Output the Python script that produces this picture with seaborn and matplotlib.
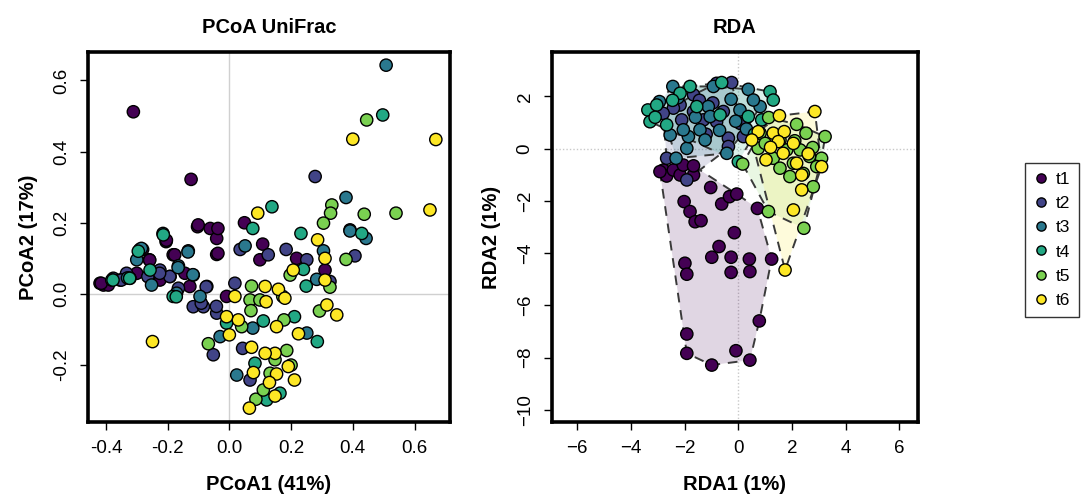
import numpy as np
import pandas as pd
import matplotlib
matplotlib.use("Agg")
import matplotlib.pyplot as plt
from matplotlib.patches import Polygon
import seaborn as sns

# ---------------- data ----------------
groups = ["t1", "t2", "t3", "t4", "t5", "t6"]
palette = ["#440154", "#414487", "#2A788E", "#22A884", "#7AD151", "#FDE725"]

# PCoA on UniFrac distances (axis 1 = 41 %, axis 2 = 17 %)
pcoa_t1_x = [-0.311, -0.124, -0.103, -0.062, -0.041, -0.041, 0.049, 0.108, 0.099, -0.205,
             -0.259, -0.182, -0.128, -0.419, -0.408, -0.009, 0.310, 0.218, -0.281, -0.300,
             -0.225, -0.392, -0.144, -0.415, -0.204, -0.177, -0.258, -0.101, -0.037, -0.037]
pcoa_t1_y = [0.512, 0.322, 0.189, 0.184, 0.156, 0.111, 0.200, 0.140, 0.096, 0.147,
             0.096, 0.110, 0.021, 0.030, 0.025, -0.007, 0.067, 0.100, 0.125, 0.058,
             0.039, 0.025, 0.058, 0.030, 0.151, 0.110, 0.095, 0.194, 0.184, 0.114]
pcoa_t2_x = [0.278, 0.184, 0.407, 0.126, 0.035, 0.018, 0.251, 0.326, -0.052, 0.043,
             0.067, -0.117, -0.073, -0.084, -0.192, -0.263, -0.333, -0.376, -0.354, -0.225,
             -0.041, -0.165, 0.391, -0.350, -0.264, -0.193, -0.075, -0.091, -0.042, -0.226]
pcoa_t2_y = [0.330, 0.125, 0.107, 0.110, 0.125, 0.030, 0.096, 0.035, -0.171, -0.153,
             -0.242, -0.036, 0.021, -0.036, 0.049, 0.049, 0.058, 0.044, 0.039, 0.067,
             -0.054, 0.016, 0.180, 0.039, 0.049, 0.049, 0.020, -0.026, -0.035, 0.058]
pcoa_t3_x = [0.508, 0.378, 0.391, 0.443, 0.305, 0.283, 0.051, -0.133, -0.290, -0.165,
             -0.117, -0.030, 0.024, 0.076, 0.251, -0.171, -0.300, -0.252, -0.095, -0.285,
             -0.215, -0.134, -0.166, -0.118, -0.330]
pcoa_t3_y = [0.643, 0.271, 0.177, 0.156, 0.121, 0.041, 0.135, 0.121, 0.125, 0.079,
             0.053, -0.120, -0.228, -0.096, -0.110, 0.002, 0.096, 0.025, -0.007, 0.128,
             0.170, 0.118, 0.074, 0.054, 0.045]
pcoa_t4_x = [0.497, 0.138, 0.076, 0.232, 0.429, 0.240, 0.249, 0.285, 0.211, 0.110,
             -0.214, -0.381, -0.322, -0.182, -0.009, 0.083, 0.121, 0.164, -0.257, -0.377,
             -0.323, -0.172, -0.295]
pcoa_t4_y = [0.503, 0.245, 0.184, 0.170, 0.170, 0.069, 0.022, -0.134, -0.064, -0.076,
             0.166, 0.039, 0.044, -0.007, -0.082, -0.195, -0.298, -0.279, 0.067, 0.039,
             0.044, -0.008, 0.120]
pcoa_t5_x = [0.445, 0.540, 0.437, 0.332, 0.328, 0.305, 0.378, 0.197, 0.326, 0.292,
             0.072, 0.067, 0.070, 0.173, 0.177, -0.068, 0.099, 0.186, 0.132, 0.086,
             0.148, 0.040, 0.110, 0.200]
pcoa_t5_y = [0.489, 0.227, 0.224, 0.250, 0.227, 0.199, 0.097, 0.053, 0.019, -0.048,
             0.022, -0.017, -0.047, -0.007, -0.073, -0.140, -0.017, -0.159, -0.223, -0.296,
             -0.185, -0.092, -0.270, -0.200]
pcoa_t6_x = [0.669, 0.400, 0.650, 0.092, 0.286, 0.310, 0.310, 0.207, 0.116, 0.159,
             0.180, 0.119, 0.316, 0.348, 0.018, 0.029, -0.009, 0.000, -0.249, 0.224,
             0.153, 0.072, 0.148, 0.116, 0.078, 0.153, 0.211, 0.130, 0.148, 0.065,
             0.191]
pcoa_t6_y = [0.434, 0.435, 0.236, 0.227, 0.152, 0.100, 0.039, 0.067, 0.021, 0.013,
             -0.012, -0.022, -0.031, -0.059, -0.007, -0.073, -0.064, -0.115, -0.134, -0.112,
             -0.092, -0.150, -0.167, -0.167, -0.221, -0.225, -0.242, -0.249, -0.287, -0.321,
             -0.204]

# RDA site scores (axis 1 = 1 %, axis 2 = 1 %)
rda_t1_x = [-0.99, -1.92, -1.92, -0.09, 0.43, 0.78, -1.99, -1.92, -0.99, -0.72,
            -0.27, -0.27, 0.41, 0.43, 1.24, -0.15, -2.02, -1.80, -1.61, -1.39,
            -0.62, -0.33, -0.06, -1.03, 0.71, -2.79, -2.67, -2.42, -2.17, -1.67,
            -2.05, -1.67, -2.92]
rda_t1_y = [-8.29, -7.84, -7.10, -7.74, -8.10, -6.60, -4.39, -4.81, -4.16, -3.75,
            -4.16, -4.74, -4.23, -4.71, -4.23, -3.22, -2.03, -2.41, -2.80, -2.76,
            -2.12, -1.84, -1.74, -1.49, -2.29, -0.82, -1.05, -0.82, -1.01, -1.01,
            -0.63, -0.66, -0.88]
rda_t2_x = [-0.25, -1.67, -2.17, -1.67, -0.56, -0.81, -0.37, -0.37, 0.19, -2.67,
            -1.92, -2.42, -1.30, -2.11, -0.81, 0.06, -1.45, -2.80, -0.95, -1.20]
rda_t2_y = [2.53, 2.06, 1.67, 1.42, 1.42, 1.03, 0.40, 0.08, 0.46, -0.37,
            -1.20, 1.55, 1.10, 1.10, 2.50, 0.97, 1.85, 1.35, 1.75, 0.55]
rda_t3_x = [-2.44, 0.37, -0.27, -1.12, -1.05, -2.54, -2.32, -1.92, -1.43, -0.43,
            -1.24, -1.86, -2.94, 0.06, 0.81, 0.56, -0.93, -2.05, -1.60, -0.70,
            -2.25, -0.10, 0.30]
rda_t3_y = [2.38, 2.27, 1.89, 1.61, 1.23, 0.52, -0.37, 0.01, 0.72, -0.18,
            0.33, 0.46, 1.80, 1.48, 1.61, 1.86, 2.38, 0.72, 1.20, 0.70,
            1.95, 1.05, 0.75]
rda_t4_x = [-3.37, -3.29, -3.04, -2.67, -1.80, -0.62, 1.18, 1.30, 0.37, 0.87,
            0.00, -2.17, -1.55, -0.68, -3.10, -2.45, 0.60]
rda_t4_y = [1.48, 1.03, 1.67, 0.91, 2.38, 2.53, 2.18, 1.86, 1.23, 1.10,
            -0.50, 2.12, 1.61, 1.29, 1.20, 1.85, 0.55]
rda_t5_x = [1.13, 3.23, 2.17, 2.52, 2.77, 3.10, 0.74, 1.30, 1.55, 2.05,
            2.79, 2.42, 0.16, 1.12, 2.44, 1.80, 2.30, 0.81, 2.92, 1.92,
            1.55, 2.65, 1.00, 2.10]
rda_t5_y = [1.19, 0.46, 0.93, 0.59, 0.04, -0.37, 0.01, -0.37, -0.75, -0.56,
            -1.46, -0.95, -0.59, -2.41, -3.05, -0.05, -0.05, 0.59, -0.69, -1.07,
            0.33, -0.30, 0.20, 0.30]
rda_t6_x = [2.85, 1.53, 0.74, 1.30, 1.71, 0.50, 1.49, 1.67, 1.03, 2.17,
            2.36, 3.10, 2.36, 2.05, 1.74, 2.05, 1.20, 2.60]
rda_t6_y = [1.42, 1.26, 0.65, 0.59, 0.65, 0.33, 0.27, -0.18, -0.43, -0.56,
            -1.01, -0.69, -1.58, -2.35, -4.65, 0.20, 0.05, -0.20]


def frame(prefix):
    parts = []
    for g in groups:
        xs = globals()[f"{prefix}_{g}_x"]
        ys = globals()[f"{prefix}_{g}_y"]
        parts.append(pd.DataFrame({"x": xs, "y": ys, "group": g}))
    return pd.concat(parts, ignore_index=True)


pcoa = frame("pcoa")
rda = frame("rda")


def convex_hull(points):
    pts = sorted(set(map(tuple, points)))
    if len(pts) < 3:
        return pts

    def cross(o, a, b):
        return (a[0] - o[0]) * (b[1] - o[1]) - (a[1] - o[1]) * (b[0] - o[0])

    lower, upper = [], []
    for p in pts:
        while len(lower) >= 2 and cross(lower[-2], lower[-1], p) <= 0:
            lower.pop()
        lower.append(p)
    for p in reversed(pts):
        while len(upper) >= 2 and cross(upper[-2], upper[-1], p) <= 0:
            upper.pop()
        upper.append(p)
    return lower[:-1] + upper[:-1]


# ---------------- figure ----------------
sns.set_theme(style="white")
plt.rcParams["font.family"] = ["Liberation Sans", "DejaVu Sans"]
for key in ("text.color", "axes.labelcolor", "xtick.color", "ytick.color"):
    plt.rcParams[key] = "black"

fig = plt.figure(figsize=(10.81, 4.99), dpi=100)
ax1 = fig.add_axes([0.0814, 0.1543, 0.3349, 0.7415])
ax2 = fig.add_axes([0.5104, 0.1543, 0.3388, 0.7415])

pt_kw = dict(s=78, edgecolor="black", linewidth=1.0, alpha=1.0)
lab_fs = 14.5
tick_fs = 13.5

# PCoA panel
ax1.axhline(0, color="#d0d0d0", lw=1.0, zorder=0)
ax1.axvline(0, color="#d0d0d0", lw=1.0, zorder=0)
sns.scatterplot(data=pcoa, x="x", y="y", hue="group", hue_order=groups,
                palette=palette, ax=ax1, legend=False, zorder=3, **pt_kw)
ax1.set_xlim(-0.458, 0.715)
ax1.set_ylim(-0.36, 0.68)
ax1.set_xticks([-0.4, -0.2, 0.0, 0.2, 0.4, 0.6])
ax1.set_xticklabels(["-0.4", "-0.2", "0.0", "0.2", "0.4", "0.6"])
ax1.set_yticks([-0.2, 0.0, 0.2, 0.4, 0.6])
ax1.set_yticklabels(["-0.2", "0.0", "0.2", "0.4", "0.6"])
ax1.set_xlabel("PCoA1 (41%)", fontweight="bold", fontsize=lab_fs, labelpad=13)
ax1.set_ylabel("PCoA2 (17%)", fontweight="bold", fontsize=lab_fs, labelpad=11)
ax1.set_title("PCoA UniFrac", fontweight="bold", fontsize=lab_fs, pad=14)

# RDA panel
ax2.axhline(0, color="#c8c8c8", lw=1.0, ls=(0, (1, 1.5)), zorder=0)
ax2.axvline(0, color="#c8c8c8", lw=1.0, ls=(0, (1, 1.5)), zorder=0)
for g, col in zip(groups, palette):
    sub = rda[rda["group"] == g][["x", "y"]].to_numpy()
    hull = convex_hull(sub)
    ax2.add_patch(Polygon(hull, closed=True, facecolor=col, alpha=0.16,
                          edgecolor="none", zorder=1))
    ax2.add_patch(Polygon(hull, closed=True, facecolor="none",
                          edgecolor="#3a3a3a", lw=1.4, ls=(0, (5, 4)), zorder=2))
sns.scatterplot(data=rda, x="x", y="y", hue="group", hue_order=groups,
                palette=palette, ax=ax2, legend=True, zorder=3, **pt_kw)
ax2.set_xlim(-6.95, 6.69)
ax2.set_ylim(-10.47, 3.7)
ax2.set_xticks(np.arange(-6, 7, 2))
ax2.set_yticks(np.arange(-10, 3, 2))
ax2.set_xlabel("RDA1 (1%)", fontweight="bold", fontsize=lab_fs, labelpad=13)
ax2.set_ylabel("RDA2 (1%)", fontweight="bold", fontsize=lab_fs, labelpad=11)
ax2.set_title("RDA", fontweight="bold", fontsize=lab_fs, pad=14)

for ax in (ax1, ax2):
    for sp in ax.spines.values():
        sp.set_visible(True)
        sp.set_color("black")
        sp.set_linewidth(2.6)
    ax.tick_params(axis="both", direction="out", length=6, width=1.0,
                   color="black", labelsize=tick_fs, pad=7, bottom=True, left=True)
    ax.tick_params(axis="y", labelrotation=90)
    for lab in ax.get_yticklabels():
        lab.set_verticalalignment("center")
    ax.grid(False)

# shared legend on the right
sns.move_legend(ax2, "upper left", bbox_to_anchor=(0.948, 0.673),
                bbox_transform=fig.transFigure, title=None, frameon=True,
                fontsize=12.5, handlelength=0.9, handletextpad=0.4,
                borderpad=0.5, labelspacing=0.52, markerscale=0.75,
                fancybox=False, borderaxespad=0)
leg = ax2.get_legend()
leg.get_frame().set_edgecolor("black")
leg.get_frame().set_linewidth(1.0)

fig.savefig("out.png", dpi=100)
